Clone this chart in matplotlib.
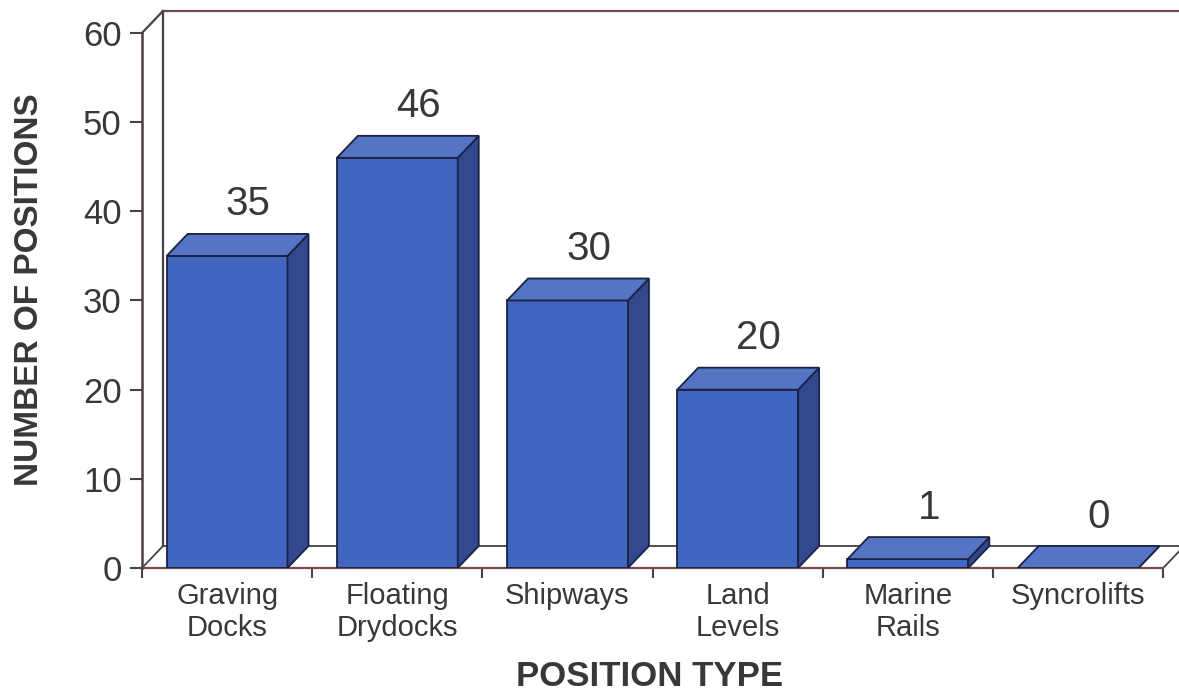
import numpy as np
import matplotlib
matplotlib.use("Agg")
import matplotlib.pyplot as plt
from matplotlib.patches import Polygon

plt.rcParams['font.family'] = ['Liberation Sans', 'DejaVu Sans']

# data
categories = ["Graving\nDocks", "Floating\nDrydocks", "Shipways",
              "Land\nLevels", "Marine\nRails", "Syncrolifts"]
positions = [35, 46, 30, 20, 1, 0]
y_ticks = [0, 10, 20, 30, 40, 50, 60]

# colours
front_col = "#4166c2"
top_col = "#5474c4"
side_col = "#33488e"
edge_col = "#1c2244"
line_col = "#4a4048"
floor_line = "#7a4a4e"
text_col = "#383838"

W, H = 1179, 692
fig = plt.figure(figsize=(W / 100, H / 100), dpi=100)

# axes placed so the front-left corner of the floor sits at (142, 568) px
x0_px, y0_px, top_px = 142, 568, 12
cat_px = 170.2
unit_px = 8.917
ax = fig.add_axes([x0_px / W, (H - y0_px) / H, (W - x0_px) / W, (y0_px - top_px) / H])
ax.set_xlim(0, (W - x0_px) / cat_px)
ax.set_ylim(0, (y0_px - top_px) / unit_px)

# depth offsets of the fake 3d in data units
dx = 21 / cat_px
dy = 22 / unit_px
n = len(categories)
ymax = 60

for s in ax.spines.values():
    s.set_visible(False)
ax.patch.set_visible(False)

# floor
floor = Polygon([(0, 0), (n, 0), (n + dx, dy), (dx, dy)], closed=True,
                facecolor="white", edgecolor=line_col, linewidth=1.3, clip_on=False, zorder=1)
ax.add_patch(floor)
ax.plot([0, n], [0, 0], color=floor_line, linewidth=1.6, clip_on=False, zorder=2)

# back wall + left wall lines
ax.plot([dx, dx], [dy, ymax + dy], color=line_col, linewidth=1.6, clip_on=False, zorder=1)
ax.plot([dx, n + 1], [ymax + dy, ymax + dy], color="#6a4c5a", linewidth=1.6, clip_on=False, zorder=1)
ax.plot([0, 0], [0, ymax], color=line_col, linewidth=1.8, clip_on=False, zorder=2)
ax.plot([0, dx], [ymax, ymax + dy], color=line_col, linewidth=1.6, clip_on=False, zorder=2)

# bars
xc = np.arange(n) + 0.5
bw = 0.71
ax.bar(xc, positions, width=bw, color=front_col, edgecolor=edge_col, linewidth=1.3, zorder=3)
for x, v in zip(xc, positions):
    l, r = x - bw / 2, x + bw / 2
    side = Polygon([(r, 0), (r + dx, dy), (r + dx, v + dy), (r, v)], closed=True,
                   facecolor=side_col, edgecolor=edge_col, linewidth=1.3, zorder=3)
    top = Polygon([(l, v), (r, v), (r + dx, v + dy), (l + dx, v + dy)], closed=True,
                  facecolor=top_col, edgecolor=edge_col, linewidth=1.3, zorder=4)
    ax.add_patch(side)
    ax.add_patch(top)
    ax.text(x + dx, v + dy + 3.3, str(v), ha="center", va="center",
            fontsize=29, color=text_col, zorder=5)

# y axis ticks
ax.set_yticks(y_ticks)
ax.tick_params(axis="y", length=8.6, width=1.5, color=line_col, pad=6,
               labelsize=25, labelcolor=text_col)

# x axis: boundary ticks + centred labels
ax.set_xticks(np.arange(n + 1))
ax.set_xticklabels([""] * (n + 1))
ax.set_xticks(xc, minor=True)
ax.set_xticklabels(categories, minor=True)
ax.tick_params(axis="x", which="major", length=7.2, width=1.5, color=line_col)
ax.tick_params(axis="x", which="minor", length=0, pad=10, labelsize=21, labelcolor=text_col)

fig.text(30 / W, 1 - 290 / H, "NUMBER OF POSITIONS", rotation=90, ha="center", va="center",
         fontsize=24, fontweight="bold", color=text_col)
fig.text(650 / W, 1 - 676 / H, "POSITION TYPE", ha="center", va="center",
         fontsize=25, fontweight="bold", color=text_col)

fig.savefig("out.png", dpi=100)
